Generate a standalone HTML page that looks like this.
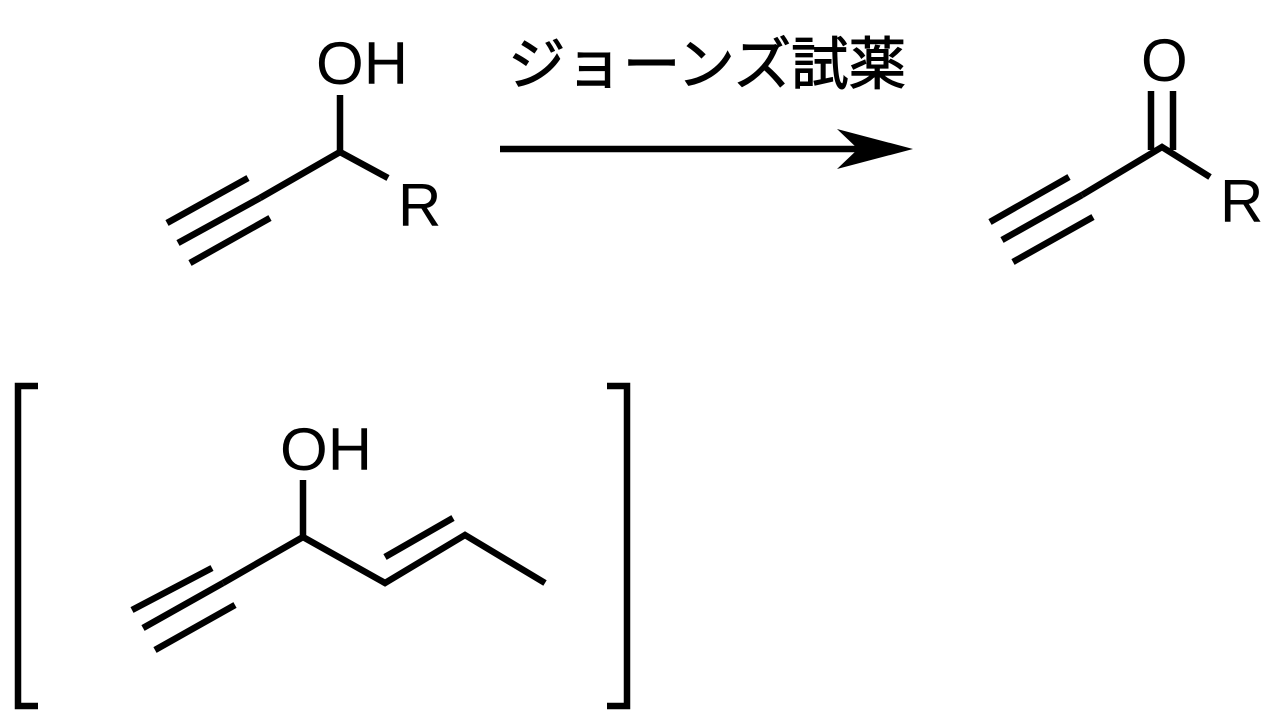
<!DOCTYPE html>
<html><head><meta charset="utf-8"><style>
html,body{margin:0;padding:0;background:#fff;}
svg{display:block;}
text{font-family:"Liberation Sans","Noto Sans CJK JP",sans-serif;fill:#000;}
</style></head><body>
<svg width="1280" height="720" viewBox="0 0 1280 720" xmlns="http://www.w3.org/2000/svg">
<g stroke="#000" stroke-width="6.5" fill="none" stroke-linecap="butt">
<line x1="340" y1="95" x2="340" y2="152"/>
<polyline points="388,178 340,152 260,198"/>
<line x1="178" y1="243" x2="260" y2="198"/>
<line x1="167" y1="223" x2="248" y2="178"/>
<line x1="190" y1="263" x2="270" y2="218"/>
<line x1="1151" y1="91" x2="1151" y2="150"/>
<line x1="1173" y1="91" x2="1173" y2="150"/>
<polyline points="1210,177 1162,147 1082,195"/>
<line x1="1002" y1="240" x2="1082" y2="195"/>
<line x1="990" y1="222" x2="1069" y2="177"/>
<line x1="1013" y1="262" x2="1093" y2="217"/>
<line x1="303" y1="480" x2="303" y2="537"/>
<polyline points="223,583 303,537 385,583 465,535 545,583"/>
<line x1="143" y1="628" x2="223" y2="583"/>
<line x1="132" y1="610" x2="212" y2="568"/>
<line x1="155" y1="650" x2="235" y2="605"/>
<line x1="385" y1="557" x2="453" y2="518"/>
<line x1="500" y1="149" x2="860" y2="149"/>
<polyline points="38,386 18,386 18,706 38,706"/>
<polyline points="607,386 627,386 627,706 607,706"/>
</g>
<polygon points="913,149 837,129 858,149 837,169" fill="#000"/>
<text x="316" y="84" font-size="60" textLength="92" lengthAdjust="spacingAndGlyphs">OH</text>
<text x="398" y="226" font-size="60">R</text>
<text x="1141" y="81" font-size="60">O</text>
<text x="1220" y="222" font-size="60">R</text>
<text x="280" y="470" font-size="60" textLength="92" lengthAdjust="spacingAndGlyphs">OH</text>
<text x="508" y="84" font-size="57" stroke="#000" stroke-width="1" textLength="398" lengthAdjust="spacingAndGlyphs">ジョーンズ試薬</text>
</svg>
</body></html>
